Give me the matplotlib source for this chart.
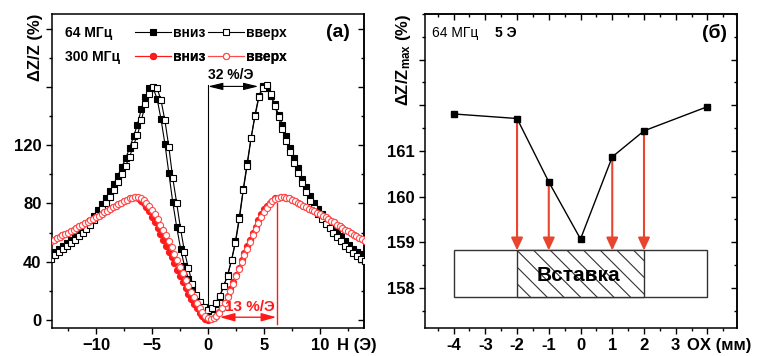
import numpy as np
import matplotlib
matplotlib.use('Agg')
import matplotlib.pyplot as plt
from matplotlib.patches import Rectangle
from matplotlib.ticker import MultipleLocator

plt.rcParams['font.family'] = ['Liberation Sans', 'DejaVu Sans']
plt.rcParams['font.weight'] = 'bold'
plt.rcParams['mathtext.fontset'] = 'custom'
plt.rcParams['mathtext.rm'] = 'Liberation Sans'
plt.rcParams['mathtext.it'] = 'Liberation Sans:italic'
plt.rcParams['mathtext.bf'] = 'Liberation Sans:bold'
plt.rcParams['hatch.linewidth'] = 0.8
plt.rcParams['axes.linewidth'] = 1.1

# ---------------- Panel (a) data ----------------
H_64 = np.linspace(-14, 14, 81)
dz_64_down = [44.5, 47, 49, 51, 53, 55, 57.5, 60, 62.5, 65, 68, 71.5, 75.5, 79.5, 84, 88.5,
              93.5, 99, 105, 111, 118, 126, 134, 145, 153, 159,
              159, 152, 138, 121, 101, 81, 64, 49, 37, 28, 20.5, 14, 10.5, 8, 6.5,
              7.5, 11, 16, 23, 31, 41, 54, 71, 90, 108, 125, 141, 154, 160.5,
              159, 154, 148, 141, 134, 126, 118, 111, 104, 97, 91, 85, 80, 76, 72.5,
              69.5, 66.5, 63.5, 60.5, 57.5, 54.5, 51.5, 49, 47, 45, 43]
dz_64_up = [42, 44.5, 46.5, 48.5, 50.5, 52.5, 55, 57.5, 60, 62.5, 65.5, 68.5, 72, 76, 80, 84.5,
            89.5, 94.5, 100, 106, 112, 120, 127, 137, 148, 155,
            160, 159, 151, 137, 119, 97.5, 80.5, 62.5, 47, 35.5, 25, 17, 12.5, 9, 7,
            8.5, 12, 16.5, 23.5, 30.5, 41, 53, 69, 89, 106, 125, 140, 153, 159.5,
            161, 155, 147, 139, 131, 123, 115, 108, 101, 94, 88, 82, 77, 73, 69,
            66, 63, 60, 57, 54, 51, 48.5, 46, 44, 42, 40.5]

H_300 = np.linspace(-14, 14, 113)
dz_300_down = [54, 55, 56, 57, 58, 59, 60, 61, 62, 63, 64.5, 65.5, 66.5, 67.5, 68.5, 69.5,
               70.5, 71.5, 73, 74, 75, 76.5, 77.5, 78.5, 79.5, 80.5, 81.5, 82.5, 83.5, 84,
               84.5, 83.5, 82, 80, 77.5, 74.5, 71, 67, 63, 59, 55, 51, 47, 43, 39, 34.5,
               30, 26, 22, 18, 14.5, 11, 8, 5, 2.5, 1, 0.3,
               0.5, 1.5, 3, 5.5, 8.5, 12, 16.5, 21, 26, 31, 36, 41, 46, 50.5, 55, 59.5,
               64, 68.5, 72.5, 76, 78.5, 80.5, 82, 83.5, 84, 84.5, 84.5, 84, 83.5, 82.5,
               81.5, 80.5, 79.5, 78.5, 77.5, 76.5, 75.5, 74.5, 73.5, 72.5, 71.5, 70.5,
               69, 68, 67, 65.5, 64.5, 63, 62, 61, 60, 58.5, 57.5, 56.5, 55.5, 54.5]
dz_300_up = [54, 55, 56, 57, 58, 59, 60, 61, 62, 63, 64.5, 65.5, 66.5, 67.5, 68.5, 69.5,
             70.5, 71.5, 73, 74, 75, 76.5, 77.5, 78.5, 79.5, 80.5, 81.5, 82.5, 83.5, 84,
             84.5, 84.5, 84, 82.5, 80.5, 78, 75.5, 72.5, 69, 65.5, 62, 58, 54, 50, 45.5,
             41, 36.5, 32, 27.5, 23.5, 19.5, 15.5, 12, 8.5, 5.5, 3, 1.5,
             0.8, 1.5, 3, 5, 8, 11.5, 15.5, 20, 25, 30, 35, 40, 44.5, 49, 53.5, 58,
             62.5, 66.5, 70.5, 74, 77, 79.5, 81.5, 83, 84, 84.5, 84.5, 84, 83.5, 82.5,
             81.5, 80.5, 79.5, 78.5, 77.5, 76.5, 75.5, 74.5, 73.5, 72.5, 71.5, 70.5,
             69, 68, 67, 65.5, 64.5, 63, 62, 61, 60, 58.5, 57.5, 56.5, 55.5, 54.5]

a_xticks = [-10, -5, 0, 5, 10]
a_yticks = [0, 40, 80, 120, 160, 200]
a_ytick_labels = ['0', '40', '80', '120', '', '']

# annotation values (panel a)
slope_64_label = '32 %/Э'
slope_300_label = '13 %/Э'
arrow64_y, arrow64_x_end = 160.3, 4.5
line300_x, line300_y0, line300_y1 = 6.15, -2.5, 80
arrow300_y, arrow300_x0, arrow300_x1 = 1.9, 1.05, 6.1

# ---------------- Panel (б) data ----------------
ox_mm = [-4, -2, -1, 0, 1, 2, 4]
dz_max = [161.81, 161.71, 160.32, 159.07, 160.87, 161.44, 161.97]
arrow_positions = [-2, -1, 1, 2]
b_xticks = [-4, -3, -2, -1, 0, 1, 2, 3, 4]
b_xtick_labels = ['-4', '-3', '-2', '-1', '0', '1', '2', '3', '']
b_yticks = [158, 159, 160, 161, 162, 163]
b_ytick_labels = ['158', '159', '160', '161', '', '']
insert_x0, insert_x1 = -4, 4
insert_hx0, insert_hx1 = -2, 2
insert_y0, insert_y1 = 157.8, 158.82

RED = '#ff1a1a'
RED_OPEN = '#ff4a4a'
ARROW_RED = '#e8452e'

W, Hh = 757, 356
fig = plt.figure(figsize=(W / 100, Hh / 100), dpi=100)
ax1 = fig.add_axes([52 / W, 28 / Hh, 312 / W, 314 / Hh])
ax2 = fig.add_axes([425 / W, 28 / Hh, 312 / W, 314 / Hh])

# ---------- panel (a) ----------
l64d, = ax1.plot(H_64, dz_64_down, color='black', lw=0.8, marker='s', ms=4.3,
                 mfc='black', mec='black', mew=0.8, zorder=3)
l64u, = ax1.plot(H_64, dz_64_up, color='black', lw=0.8, marker='s', ms=4.3,
                 mfc='white', mec='black', mew=0.8, zorder=4)
l300d, = ax1.plot(H_300, dz_300_down, color=RED, lw=0.8, marker='o', ms=4.4,
                  mfc=RED, mec=RED, mew=0.8, zorder=5)
l300u, = ax1.plot(H_300, dz_300_up, color=RED_OPEN, lw=0.8, marker='o', ms=4.4,
                  mfc='white', mec=RED_OPEN, mew=0.8, zorder=6)

ax1.set_xlim(-13.93, 13.93)
ax1.set_ylim(-5.5, 210)
ax1.set_xticks(a_xticks)
ax1.xaxis.set_minor_locator(MultipleLocator(2.5))
ax1.set_yticks(a_yticks, labels=a_ytick_labels)
ax1.yaxis.set_minor_locator(MultipleLocator(20))
ax1.tick_params(which='both', direction='out', labelsize=12, top=False, right=False,
                width=1.0, pad=3)
ax1.tick_params(which='major', length=4.5)
ax1.tick_params(which='minor', length=2.5)
sec1 = ax1.secondary_yaxis('right')
sec1.set_yticks(a_yticks)
sec1.yaxis.set_minor_locator(MultipleLocator(20))
sec1.tick_params(which='both', direction='in', labelright=False, width=1.0)
sec1.tick_params(which='major', length=4.5)
sec1.tick_params(which='minor', length=2.5)

ax1.set_ylabel('ΔZ/Z (%)', fontsize=12, fontweight='bold', loc='top')
ax1.yaxis.set_label_coords(-0.03, 1.0)
ax1.text(0.913, -0.057, 'H (Э)', transform=ax1.transAxes, fontsize=12,
         ha='left', va='center')

# vertical line at H=0 and 32 %/Э arrow
ax1.plot([0, 0], [min(dz_64_up), max(dz_64_up)], color='black', lw=0.8, zorder=2)
ax1.annotate('', xy=(arrow64_x_end, arrow64_y), xytext=(0, arrow64_y),
             arrowprops=dict(arrowstyle='<|-|>,head_length=0.9,head_width=0.22',
                             color='black', lw=0.8, shrinkA=0, shrinkB=0,
                             mutation_scale=10), zorder=7)
ax1.text(2.0, 168, slope_64_label, fontsize=10, ha='center', va='center')

# red annotations 13 %/Э
ax1.plot([line300_x, line300_x], [line300_y0, line300_y1], color=RED, lw=1.0, zorder=7)
ax1.annotate('', xy=(arrow300_x1, arrow300_y), xytext=(arrow300_x0, arrow300_y),
             arrowprops=dict(arrowstyle='<|-|>,head_length=0.9,head_width=0.25',
                             color=RED, lw=1.0, shrinkA=0, shrinkB=0,
                             mutation_scale=10), zorder=7)
ax1.text(3.7, 9.0, slope_300_label, fontsize=11, ha='center', va='center', color=RED,
         zorder=8)

# legend rows
ax1.text(0.042, 0.9395, '64 МГц', transform=ax1.transAxes, fontsize=10,
         ha='left', va='center')
ax1.text(0.042, 0.863, '300 МГц', transform=ax1.transAxes, fontsize=10,
         ha='left', va='center')
leg_kw = dict(ncol=2, loc='center left', frameon=False, fontsize=10, handlelength=2.6,
              handletextpad=0.15, columnspacing=0.15, borderpad=0, borderaxespad=0,
              numpoints=1)
leg1 = ax1.legend([l64d, l64u], ['вниз', 'вверх'], bbox_to_anchor=(0.266, 0.9395), **leg_kw)
ax1.add_artist(leg1)
leg2 = ax1.legend([l300d, l300u], ['вниз', 'вверх'], bbox_to_anchor=(0.266, 0.863), **leg_kw)
ax1.add_artist(leg2)
ax1.text(0.955, 0.9395, '(a)', transform=ax1.transAxes, fontsize=14,
         ha='right', va='center')

# ---------- panel (б) ----------
ax2.plot(ox_mm, dz_max, color='black', lw=1.0, marker='s', ms=5, mfc='black',
         mec='black', zorder=5)
for p in arrow_positions:
    yv = dz_max[ox_mm.index(p)]
    ax2.annotate('', xy=(p, insert_y1), xytext=(p, yv),
                 arrowprops=dict(arrowstyle='-|>,head_length=0.75,head_width=0.35',
                                 color=ARROW_RED, lw=1.5, shrinkA=0, shrinkB=0,
                                 mutation_scale=10), zorder=4)

ax2.add_patch(Rectangle((insert_x0, insert_y0), insert_x1 - insert_x0, insert_y1 - insert_y0,
                        facecolor='white', edgecolor='#333333', lw=1.0, zorder=2))
ax2.add_patch(Rectangle((insert_hx0, insert_y0), insert_hx1 - insert_hx0, insert_y1 - insert_y0,
                        facecolor='white', edgecolor='#333333', hatch='\\\\', lw=1.0, zorder=3))
ax2.text(-0.07, 158.26, 'Вставка', fontsize=15, ha='center', va='center', zorder=6)

ax2.set_xlim(-4.9, 4.93)
ax2.set_ylim(157.12, 164.0)
ax2.set_xticks(b_xticks, labels=b_xtick_labels)
ax2.xaxis.set_minor_locator(MultipleLocator(0.5))
ax2.set_yticks(b_yticks, labels=b_ytick_labels)
ax2.yaxis.set_minor_locator(MultipleLocator(0.5))
ax2.tick_params(which='both', direction='out', labelsize=12, top=False, right=False,
                width=1.0, pad=3)
ax2.tick_params(which='major', length=4.5)
ax2.tick_params(which='minor', length=2.5)
sec2 = ax2.secondary_yaxis('right')
sec2.set_yticks(b_yticks)
sec2.yaxis.set_minor_locator(MultipleLocator(0.5))
sec2.tick_params(which='both', direction='in', labelright=False, width=1.0)
sec2.tick_params(which='major', length=4.5)
sec2.tick_params(which='minor', length=2.5)
sec3 = ax2.secondary_xaxis('top')
sec3.set_xticks(b_xticks)
sec3.xaxis.set_minor_locator(MultipleLocator(0.5))
sec3.tick_params(which='both', direction='in', labeltop=False, width=1.0)
sec3.tick_params(which='major', length=4.5)
sec3.tick_params(which='minor', length=2.5)

ax2.set_ylabel(r'ΔZ/Z$_{\mathrm{max}}$ (%)', fontsize=12, fontweight='bold', loc='top')
ax2.yaxis.set_label_coords(-0.038, 1.0)
ax2.text(0.84, -0.057, 'OX (мм)', transform=ax2.transAxes, fontsize=12,
         ha='left', va='center')
ax2.text(0.022, 0.9395, '64 МГц', transform=ax2.transAxes, fontsize=10,
         fontweight='normal', ha='left', va='center')
ax2.text(0.224, 0.9395, '5 Э', transform=ax2.transAxes, fontsize=10,
         ha='left', va='center')
ax2.text(0.968, 0.9395, '(б)', transform=ax2.transAxes, fontsize=14,
         ha='right', va='center')

fig.savefig('out.png', dpi=100)
